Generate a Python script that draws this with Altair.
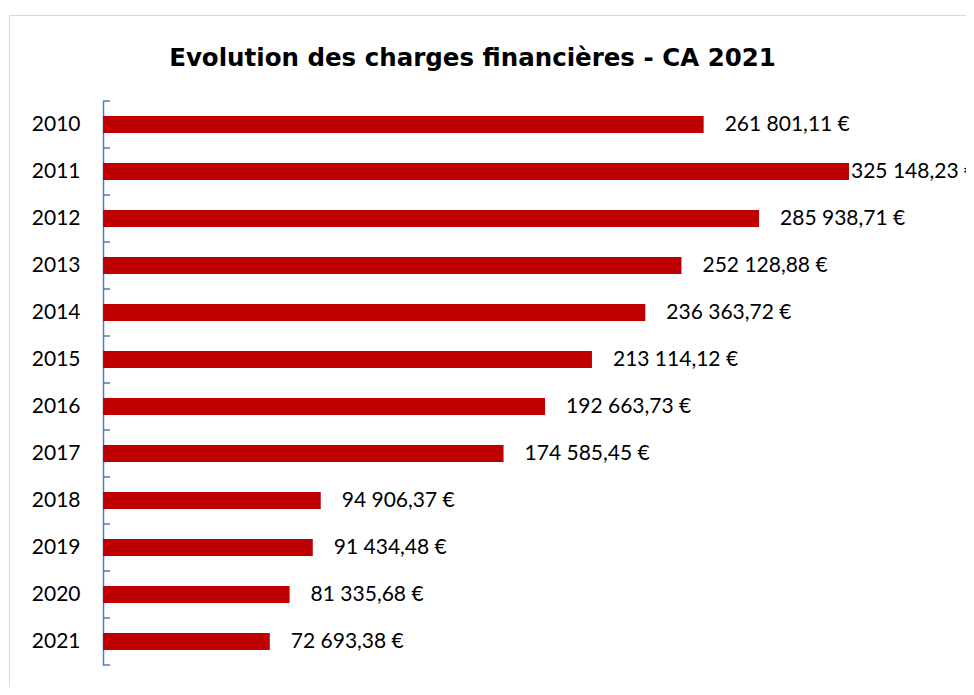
import altair as alt
import pandas as pd

years = ["2010", "2011", "2012", "2013", "2014", "2015",
         "2016", "2017", "2018", "2019", "2020", "2021"]
values = [261801.11, 325148.23, 285938.71, 252128.88, 236363.72, 213114.12,
          192663.73, 174585.45, 94906.37, 91434.48, 81335.68, 72693.38]


def fr(v):
    s = f"{v:,.2f}"
    s = s.replace(",", " ").replace(".", ",")
    return s + " €"


labels = [fr(v) for v in values]
df = pd.DataFrame({"year": years, "value": values, "label": labels})
vmax = max(values)

AXIS_BLUE = "#4A7EBB"
LABEL_FONT = "Lato"

y_axis = alt.Axis(
    title=None, domain=True, domainColor=AXIS_BLUE, domainWidth=1.5,
    ticks=False, grid=False, labelFont=LABEL_FONT, labelFontSize=21,
    labelColor="black", labelPadding=23,
)
y_scale = alt.Scale(paddingInner=0, paddingOuter=0)
x_enc = alt.X("value:Q", scale=alt.Scale(domain=[0, vmax]), axis=None)

base = alt.Chart(df)

frame = alt.Chart(pd.DataFrame({"a": [0]})).mark_rect(
    filled=False, stroke="#D9D9D9", strokeWidth=1
).encode(
    x=alt.value(-93.5), x2=alt.value(2000),
    y=alt.value(-85.5), y2=alt.value(2000),
)

bars = base.mark_bar(color="#C00000", size=17).encode(
    x=x_enc,
    y=alt.Y("year:O", sort=years, scale=y_scale, axis=y_axis),
)

ticks_top = base.mark_rule(color=AXIS_BLUE, strokeWidth=1.5).encode(
    x=alt.value(0), x2=alt.value(7),
    y=alt.Y("year:O", sort=years, scale=y_scale, axis=y_axis, bandPosition=0),
)
ticks_bottom = base.transform_filter(alt.datum.year == "2021").mark_rule(
    color=AXIS_BLUE, strokeWidth=1.5
).encode(
    x=alt.value(0), x2=alt.value(7),
    y=alt.Y("year:O", sort=years, scale=y_scale, axis=y_axis, bandPosition=1),
)

text_kw = dict(font=LABEL_FONT, fontSize=21, color="black", align="left", baseline="middle")
labels_normal = base.transform_filter(alt.datum.value < vmax).mark_text(dx=21, **text_kw).encode(
    x=x_enc,
    y=alt.Y("year:O", sort=years, scale=y_scale, axis=y_axis),
    text="label:N",
)
labels_max = base.transform_filter(alt.datum.value >= vmax).mark_text(dx=2, **text_kw).encode(
    x=x_enc,
    y=alt.Y("year:O", sort=years, scale=y_scale, axis=y_axis),
    text="label:N",
)

chart = alt.layer(frame, bars, ticks_top, ticks_bottom, labels_normal, labels_max).properties(
    width=746,
    height=564,
    title=alt.Title(
        "Evolution des charges financières - CA 2021",
        font="DejaVu Sans", fontSize=24.5, fontWeight="bold", color="black",
        anchor="middle", frame="group", baseline="alphabetic", offset=-75, dx=-3.5,
    ),
    autosize=alt.AutoSizeParams(type="none"),
    padding={"left": 95, "top": 93, "right": 117, "bottom": 22},
).configure(background="white").configure_view(stroke=None)

chart.save("out.html", embed_options={"renderer": "svg", "actions": False})
